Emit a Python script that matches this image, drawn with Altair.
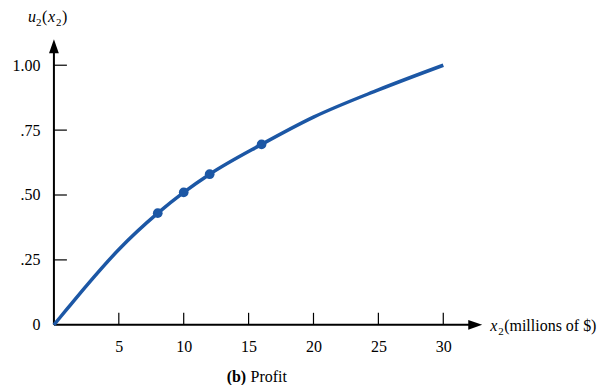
import altair as alt
import pandas as pd

# curve samples
curve_x = [0, 1, 2.5, 5, 8, 10, 12, 16, 20, 25, 30]
curve_u = [0, 0.06, 0.15, 0.29, 0.43, 0.51, 0.58, 0.695, 0.80, 0.905, 1.0]
# marked points
dot_x = [8, 10, 12, 16]
dot_u = [0.43, 0.51, 0.58, 0.695]
# ticks
x_ticks = [5, 10, 15, 20, 25, 30]
y_ticks = [0.25, 0.5, 0.75, 1.0]

W, H = 429, 286
XMAX, YMAX = 33, 1.1
BLUE = "#1c57a5"
FONT = "Times New Roman"

curve_df = pd.DataFrame({"x": curve_x, "u": curve_u})
dot_df = pd.DataFrame({"x": dot_x, "u": dot_u})
xt_df = pd.DataFrame({"x": x_ticks})
yt_df = pd.DataFrame({"u": y_ticks})

xs = alt.Scale(domain=[0, XMAX], nice=False, zero=False)
ys = alt.Scale(domain=[0, YMAX], nice=False, zero=False)

xaxis = alt.Axis(values=x_ticks, domain=False, ticks=False, grid=False, labelFont=FONT,
                 labelFontSize=16, labelColor="black", labelPadding=14, title=None)
yaxis = alt.Axis(values=[0] + y_ticks, domain=False, ticks=False, grid=False, labelFont=FONT,
                 labelFontSize=16, labelColor="black", labelPadding=14, title=None,
                 labelExpr="datum.value == 0 ? '0' : datum.value == 1 ? '1.00' : replace(format(datum.value, '.2f'), '0.', '.')")

base_axes = alt.Chart(curve_df).mark_line(opacity=0).encode(
    x=alt.X("x:Q", scale=xs, axis=xaxis),
    y=alt.Y("u:Q", scale=ys, axis=yaxis),
)

line = alt.Chart(curve_df).mark_line(color=BLUE, strokeWidth=3.5, interpolate="monotone").encode(
    x=alt.X("x:Q", scale=xs), y=alt.Y("u:Q", scale=ys)
)
dots = alt.Chart(dot_df).mark_circle(color=BLUE, size=95, opacity=1).encode(
    x=alt.X("x:Q", scale=xs), y=alt.Y("u:Q", scale=ys)
)

one = pd.DataFrame({"a": [0]})
# axis lines
xline = alt.Chart(one).mark_rule(color="black", strokeWidth=2).encode(
    x=alt.value(0), x2=alt.value(W - 6), y=alt.value(H)
)
yline = alt.Chart(one).mark_rule(color="black", strokeWidth=2).encode(
    x=alt.value(0), y=alt.value(H), y2=alt.value(6)
)
xarrow = alt.Chart(one).mark_point(
    shape="M0,0L-2,-0.7L-2,0.7Z", filled=True, color="black", opacity=1, size=196, strokeWidth=0
).encode(x=alt.value(W), y=alt.value(H))
yarrow = alt.Chart(one).mark_point(
    shape="M0,0L-0.7,2L0.7,2Z", filled=True, color="black", opacity=1, size=196, strokeWidth=0
).encode(x=alt.value(0), y=alt.value(0))

# ticks pointing inward
xticks = alt.Chart(xt_df).mark_rule(color="black", strokeWidth=1.2).encode(
    x=alt.X("x:Q", scale=xs), y=alt.value(H), y2=alt.value(H - 12)
)
yticks = alt.Chart(yt_df).mark_rule(color="black", strokeWidth=1.2).encode(
    y=alt.Y("u:Q", scale=ys), x=alt.value(0), x2=alt.value(13)
)

def seg(text, px, py, size=16, style="normal", weight="normal", align="left", baseline="alphabetic"):
    return alt.Chart(pd.DataFrame({"t": [text]})).mark_text(
        font=FONT, fontSize=size, fontStyle=style, fontWeight=weight, align=align,
        baseline=baseline, color="black"
    ).encode(text="t:N", x=alt.value(px), y=alt.value(py))

# y title u2(x2)
ytitle = [
    seg("u", -26, -17, style="italic"),
    seg("2", -18, -13, size=11),
    seg("(", -12, -17),
    seg("x", -6, -17, style="italic"),
    seg("2", 2, -13, size=11),
    seg(")", 8, -17),
]
# x title x2(millions of $)
xtitle = [
    seg("x", 437, H + 6, style="italic"),
    seg("2", 445, H + 10, size=11),
    seg("(millions of $)", 451, H + 6),
]
# caption (b) Profit
caption = [
    seg("(b)", 173, H + 57, weight="bold"),
    seg("Profit", 197, H + 57),
]

chart = alt.layer(base_axes, xline, yline, xticks, yticks, xarrow, yarrow, line, dots,
                  *ytitle, *xtitle, *caption).properties(
    width=W, height=H,
    autosize=alt.AutoSizeParams(type="none"),
    padding={"left": 46, "top": 31, "right": 125, "bottom": 60},
).configure_view(stroke=None)

chart.save("out.html", embed_options={"renderer": "svg", "actions": False})
